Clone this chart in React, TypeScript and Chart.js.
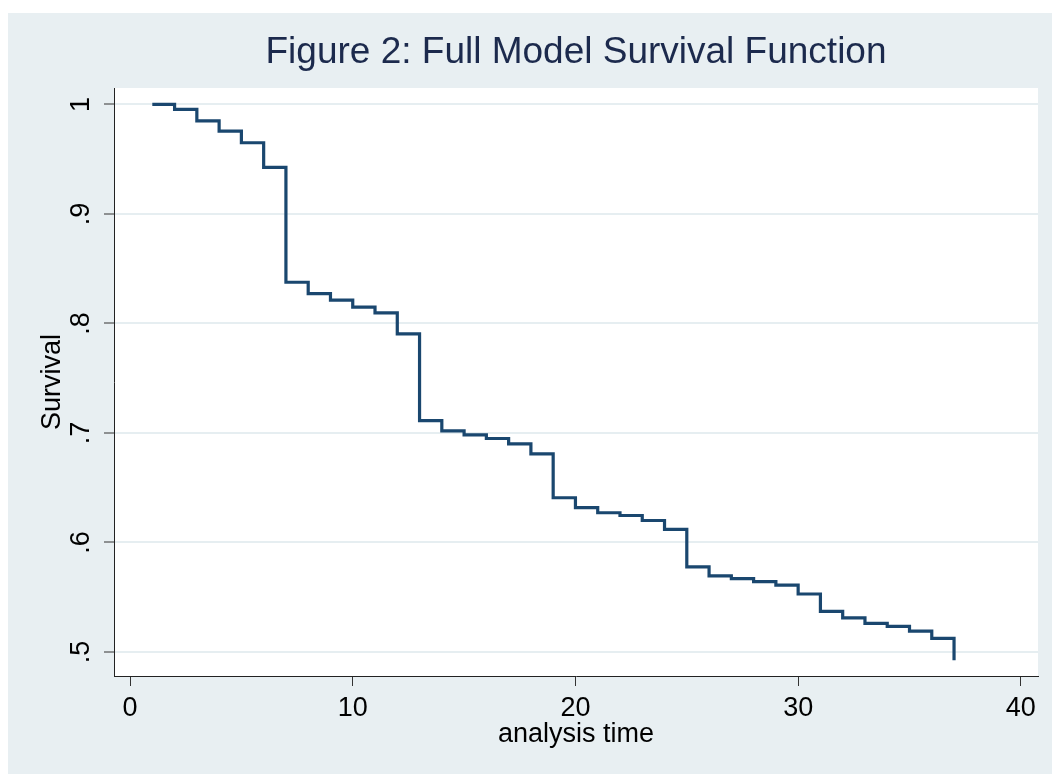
import React, { useEffect, useRef } from 'react';
import { Chart, registerables } from 'chart.js';

Chart.register(...registerables);

const times = [1, 2, 3, 4, 5, 6, 7, 8, 9, 10, 11, 12, 13, 14, 15, 16, 17, 18, 19, 20, 21, 22, 23, 24, 25, 26, 27, 28, 29, 30, 31, 32, 33, 34, 35, 36, 37];
const survival = [1.0, 0.9955, 0.985, 0.9756, 0.965, 0.9425, 0.8376, 0.8272, 0.8212, 0.8148, 0.8096, 0.7904, 0.7113, 0.7019, 0.6983, 0.6949, 0.69, 0.6809, 0.6408, 0.6317, 0.6271, 0.6246, 0.62, 0.6119, 0.5777, 0.5695, 0.567, 0.5641, 0.561, 0.5529, 0.537, 0.531, 0.526, 0.5234, 0.519, 0.5123, 0.4923];
const xTicks = [0, 10, 20, 30, 40];
const yTicks = [0.5, 0.6, 0.7, 0.8, 0.9, 1.0];
const yTickLabels = ['.5', '.6', '.7', '.8', '.9', '1'];

const titleText = 'Figure 2: Full Model Survival Function';
const xTitle = 'analysis time';
const yTitle = 'Survival';

const FONT = "'Liberation Sans', Arial, sans-serif";

const plotBg = {
  id: 'plotBg',
  beforeDraw(chart: any) {
    const { ctx, chartArea } = chart;
    const { left, top, right, bottom } = chartArea;
    ctx.save();
    ctx.fillStyle = '#ffffff';
    ctx.fillRect(left, top, right - left, bottom - top);
    ctx.restore();
  },
};

export default function App() {
  const ref = useRef<HTMLCanvasElement | null>(null);

  useEffect(() => {
    if (!ref.current) return;
    const chart = new Chart(ref.current, {
      type: 'line',
      data: {
        datasets: [
          {
            data: times.map((t, i) => ({ x: t, y: survival[i] })),
            borderColor: '#1a476f',
            borderWidth: 3.2,
            pointRadius: 0,
            stepped: true,
            fill: false,
            borderCapStyle: 'butt',
            borderJoinStyle: 'miter',
          },
        ],
      },
      options: {
        animation: false,
        responsive: false,
        maintainAspectRatio: false,
        layout: { padding: { left: 0, right: 14, top: 0, bottom: 0 } },
        plugins: {
          legend: { display: false },
          tooltip: { enabled: false },
          title: {
            display: true,
            text: titleText,
            fullSize: false,
            color: '#1c2a4d',
            font: { family: FONT, size: 37, weight: 'normal', lineHeight: 1.2 },
            padding: { top: 18, bottom: 12.6 },
          },
        },
        scales: {
          x: {
            type: 'linear',
            min: -0.72,
            max: 40.77,
            afterBuildTicks: (scale: any) => {
              scale.ticks = xTicks.map((v) => ({ value: v }));
            },
            afterFit: (scale: any) => {
              scale.height = 98;
            },
            grid: {
              drawOnChartArea: false,
              drawTicks: true,
              tickLength: 10,
              tickColor: '#333333',
              tickWidth: 1,
            },
            border: { display: true, color: '#222222', width: 1 },
            ticks: {
              color: '#000000',
              padding: 6,
              maxRotation: 0,
              minRotation: 0,
              font: { family: FONT, size: 27 },
              callback: (v: any) => String(v),
            },
            title: {
              display: true,
              text: xTitle,
              color: '#000000',
              font: { family: FONT, size: 27, lineHeight: 1.2 },
              padding: { top: 0, bottom: 22.8 },
            },
          },
          y: {
            type: 'linear',
            min: 0.478,
            max: 1.015,
            afterBuildTicks: (scale: any) => {
              scale.ticks = yTicks.map((v) => ({ value: v }));
            },
            afterFit: (scale: any) => {
              scale.width = 106;
            },
            grid: {
              drawOnChartArea: true,
              color: '#e6eef1',
              lineWidth: 2,
              drawTicks: true,
              tickLength: 10,
              tickColor: '#333333',
              tickWidth: 1,
            },
            border: { display: true, color: '#222222', width: 1 },
            ticks: {
              color: '#000000',
              padding: 11,
              minRotation: 90,
              maxRotation: 90,
              crossAlign: 'center',
              font: { family: FONT, size: 27 },
              callback: (v: any) => {
                const idx = yTicks.findIndex((t) => Math.abs(t - v) < 1e-6);
                return idx >= 0 ? yTickLabels[idx] : '';
              },
            },
            title: {
              display: true,
              text: yTitle,
              color: '#000000',
              font: { family: FONT, size: 27, lineHeight: 1.2 },
              padding: { top: 28.5, bottom: 0 },
            },
          },
        },
      },
      plugins: [plotBg],
    } as any);
    return () => chart.destroy();
  }, []);

  return (
    <div
      style={{
        position: 'fixed',
        left: 8,
        top: 13,
        width: 1044,
        height: 761,
        background: '#e8eff2',
      }}
    >
      <canvas ref={ref} width={1044} height={761} style={{ display: 'block', width: 1044, height: 761 }} />
    </div>
  );
}
